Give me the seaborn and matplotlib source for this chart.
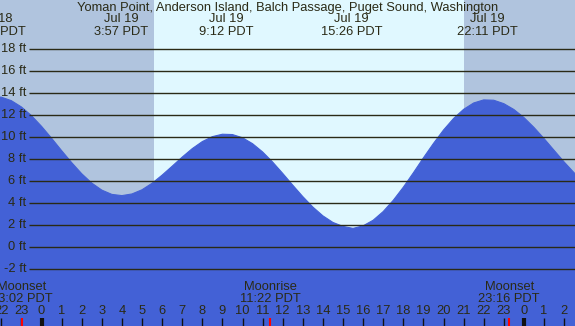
import numpy as np
import pandas as pd
import matplotlib
matplotlib.use("Agg")
import matplotlib.pyplot as plt
import seaborn as sns

# ---------------- data ----------------
title = "Yoman Point, Anderson Island, Balch Passage, Puget Sound, Washington"

# tide height (ft) every half hour, hours relative to Jul 19 00:00
tide_hours = np.arange(-2.5, 27.01, 0.5)
tide_ft = [13.68, 13.65, 13.33, 12.76, 11.97,
           11.00, 9.92, 8.79, 7.70, 6.69, 5.84, 5.20, 4.81, 4.70, 4.85,
           5.23, 5.82, 6.56, 7.37, 8.20, 8.97, 9.61, 10.06, 10.28, 10.25,
           9.96, 9.42, 8.67, 7.75, 6.72, 5.65, 4.61, 3.66, 2.86, 2.26,
           1.90, 1.72, 1.95, 2.46, 3.25, 4.27, 5.46, 6.77, 8.13, 9.44,
           10.66, 11.71, 12.54, 13.12, 13.40, 13.37, 13.06, 12.53, 11.80, 10.90,
           9.89, 8.82, 7.76, 6.77, 5.91]

# tide extremes (label at top)
extreme_hours = [-2.32, 3.95, 9.20, 15.43, 22.18]
extreme_dates = ["Jul 18", "Jul 19", "Jul 19", "Jul 19", "Jul 19"]
extreme_times = ["21:41 PDT", "3:57 PDT", "9:12 PDT", "15:26 PDT", "22:11 PDT"]

# sun
sunrise_h = 5.60
sunset_h = 21.02

# moon events
moon_hours = [-0.967, 11.367, 23.267]
moon_names = ["Moonset", "Moonrise", "Moonset"]
moon_times = ["23:02 PDT", "11:22 PDT", "23:16 PDT"]

# y grid levels (ft)
grid_levels = [-2, 0, 2, 4, 6, 8, 10, 12, 14, 16, 18]

# axis hours shown at bottom
axis_hours = list(range(-2, 27))

# ---------------- style ----------------
sns.set_style("white")
plt.rcParams["font.family"] = ["Liberation Sans", "DejaVu Sans"]

NIGHT = "#b0c4de"
DAY = "#e0f8ff"
FILL = "#4361d6"
INK = "#2a2a16"
FS = 9.3

W, H = 575, 326
fig = plt.figure(figsize=(W / 100, H / 100), dpi=100)
ax = fig.add_axes([0, 0, 1, 1])

X0, PXH = 41.5, 20.1   # pixel of hour 0 and pixels per hour
Y0, PXF = 247.3, 11.0  # pixel of 0 ft and pixels per ft


def hx(px):
    return (px - X0) / PXH


def fy(py):
    return (Y0 - py) / PXF


xmin, xmax = hx(0), hx(W)
ymin, ymax = fy(H), fy(0)
ax.set_xlim(xmin, xmax)
ax.set_ylim(ymin, ymax)
ax.set_axis_off()

# background day / night
ax.axvspan(xmin, sunrise_h, color=NIGHT, zorder=0, lw=0)
ax.axvspan(sunrise_h, sunset_h, color=DAY, zorder=0, lw=0)
ax.axvspan(sunset_h, xmax, color=NIGHT, zorder=0, lw=0)

# tide
df = pd.DataFrame({"hour": tide_hours, "ft": tide_ft})
ax.fill_between(df["hour"], ymin, df["ft"], color=FILL, lw=0, zorder=1)
sns.lineplot(data=df, x="hour", y="ft", ax=ax, color=FILL, lw=0.8, zorder=1)

# grid lines and labels
ax.hlines(grid_levels, hx(29), xmax, color=INK, lw=1.0, zorder=2)
for lv in grid_levels:
    ax.text(hx(26.5), lv, f"{lv} ft", ha="right", va="center",
            fontsize=FS, color=INK, zorder=3)

# top labels
ax.text(0.5, fy(8.5), title, transform=ax.get_yaxis_transform(),
        ha="center", va="center", fontsize=FS, color=INK, zorder=3)
for h, d, t in zip(extreme_hours, extreme_dates, extreme_times):
    ax.text(h, fy(19.5), d, ha="center", va="center", fontsize=FS, color=INK,
            zorder=3, clip_on=False)
    ax.text(h, fy(32), t, ha="center", va="center", fontsize=FS, color=INK,
            zorder=3, clip_on=False)

# bottom hour axis
for h in axis_hours:
    ax.text(h, fy(311), str(h % 24), ha="center", va="center",
            fontsize=FS, color=INK, zorder=3)
    ax.vlines(h, fy(326), fy(318), color="#111111",
              lw=3.0 if h % 24 == 0 else 1.0, zorder=3)

# moon events
for h, n, t in zip(moon_hours, moon_names, moon_times):
    ax.text(h, fy(287), n, ha="center", va="center", fontsize=FS, color=INK,
            zorder=3)
    ax.text(h, fy(299), t, ha="center", va="center", fontsize=FS, color=INK,
            zorder=3)
    ax.vlines(h, fy(326), fy(318), color="red", lw=1.5, zorder=4)

fig.savefig("out.png", dpi=100)
